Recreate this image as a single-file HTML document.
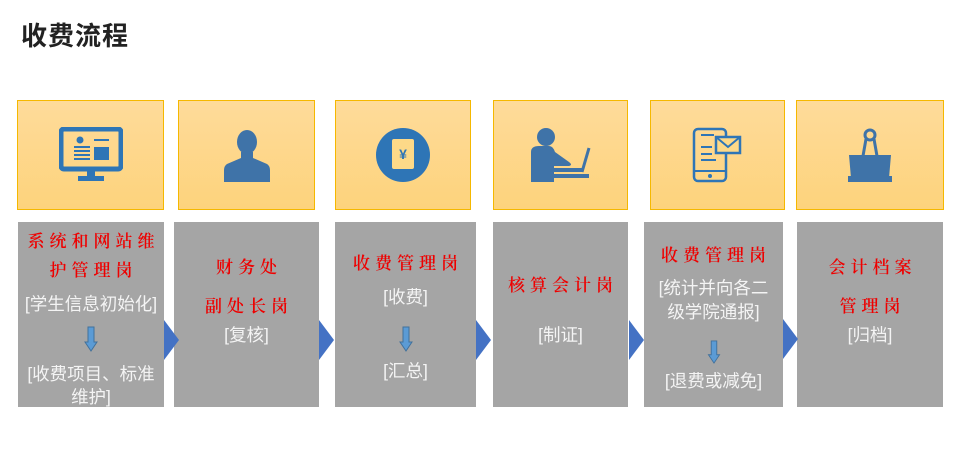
<!DOCTYPE html>
<html><head><meta charset="utf-8"><style>
body{margin:0;width:958px;height:472px;background:#fff;position:relative;overflow:hidden;font-family:"Liberation Sans","Noto Sans CJK SC",sans-serif}
.t{position:absolute;left:21px;top:16px;font-size:26px;font-weight:bold;color:#222;letter-spacing:1px}
.ib{position:absolute;top:100px;height:110px;border:1px solid #f5b800;background:linear-gradient(#fedb9a,#fdd37c);box-sizing:border-box}
.ib svg{position:absolute;left:50%;top:50%;transform:translate(-50%,-50%)}
.g{position:absolute;top:222px;height:185px;background:#a5a5a5}
.l{position:absolute;left:0;right:0;text-align:center;white-space:nowrap;line-height:1}
.r{color:#e00;font-family:"Noto Serif CJK SC","WenQuanYi Zen Hei",serif;font-size:17px;font-weight:600;letter-spacing:5px;text-indent:5px}
.w{color:#f4f4f4;font-size:17.5px}
.da{position:absolute;left:50%;margin-left:-7px;width:14px}
.ar{position:absolute;width:0;height:0;border-top:20px solid transparent;border-bottom:20px solid transparent;border-left:15px solid #4472c4}
</style></head><body>
<div class="t">收费流程</div>

<div class="ib" style="left:17px;width:147px"><svg width="64" height="56" viewBox="0 0 64 56"><rect x="2" y="2" width="60" height="40" rx="3" fill="none" stroke="#2e75b6" stroke-width="5"/><circle cx="21" cy="13" r="3.5" fill="#2e75b6"/><rect x="15" y="19" width="16" height="2" fill="#2e75b6"/><rect x="15" y="23" width="16" height="2" fill="#2e75b6"/><rect x="15" y="27" width="16" height="2" fill="#2e75b6"/><rect x="15" y="31" width="16" height="2" fill="#2e75b6"/><rect x="35" y="12" width="15" height="2" fill="#2e75b6"/><rect x="35" y="20" width="15" height="13" fill="#2e75b6"/><rect x="28" y="42" width="8" height="8" fill="#2e75b6"/><rect x="19" y="49" width="26" height="5" fill="#2e75b6"/></svg></div>
<div class="ib" style="left:178px;width:137px"><svg width="48" height="54" viewBox="0 0 48 54"><ellipse cx="24" cy="14" rx="10" ry="12" fill="#3f73a8"/><path d="M18 24 L18 30 L4 36 Q1 38 1 42 L1 54 L47 54 L47 42 Q47 38 44 36 L30 30 L30 24 Z" fill="#3f73a8"/></svg></div>
<div class="ib" style="left:335px;width:136px"><svg width="56" height="56" viewBox="0 0 56 56"><circle cx="28" cy="28" r="27" fill="#2e75b6"/><rect x="17" y="12" width="22" height="30" rx="2" fill="#fdd988"/><text x="28" y="32" font-size="14" font-weight="bold" text-anchor="middle" fill="#2e75b6" font-family="Liberation Sans">¥</text></svg></div>
<div class="ib" style="left:493px;width:135px"><svg width="64" height="54" viewBox="0 0 64 54"><circle cx="17" cy="9" r="9" fill="#3f73a8"/><path d="M2 54 L2 24 Q2 18 10 18 L20 18 Q24 18 26 24 L40 34 Q44 37 40 38 L25 38 L25 54 Z" fill="#3f73a8"/><path d="M60 20 L53 44" stroke="#3f73a8" stroke-width="3"/><rect x="20" y="40" width="34" height="4" fill="#3f73a8"/><rect x="20" y="46" width="40" height="4" fill="#3f73a8"/></svg></div>
<div class="ib" style="left:650px;width:135px"><svg width="52" height="56" viewBox="0 0 52 56"><rect x="2" y="2" width="32" height="52" rx="4" fill="none" stroke="#2e75b6" stroke-width="2.5"/><line x1="2" y1="44" x2="34" y2="44" stroke="#2e75b6" stroke-width="2"/><circle cx="18" cy="49" r="2" fill="#2e75b6"/><line x1="9" y1="8" x2="22" y2="8" stroke="#2e75b6" stroke-width="2"/><rect x="24" y="10" width="24" height="16" fill="#fdd988" stroke="#2e75b6" stroke-width="2.5"/><path d="M24 10 L36 20 L48 10" fill="none" stroke="#2e75b6" stroke-width="2"/><line x1="9" y1="20" x2="20" y2="20" stroke="#2e75b6" stroke-width="2"/><line x1="9" y1="27" x2="20" y2="27" stroke="#2e75b6" stroke-width="2"/><line x1="9" y1="33" x2="24" y2="33" stroke="#2e75b6" stroke-width="2"/></svg></div>
<div class="ib" style="left:796px;width:148px"><svg width="48" height="54" viewBox="0 0 48 54"><circle cx="24" cy="7" r="5" fill="none" stroke="#3f73a8" stroke-width="3"/><path d="M20 11 L17 28 M28 11 L31 28" stroke="#3f73a8" stroke-width="3"/><path d="M3 27 L45 27 L43 50 L5 50 Z" fill="#3f73a8"/><rect x="2" y="48" width="44" height="6" fill="#3f73a8"/></svg></div>

<div class="g" style="left:18px;width:146px">
<div class="l r" style="top:9px">系统和网站维</div>
<div class="l r" style="top:38px">护管理岗</div>
<div class="l w" style="top:74px">[学生信息初始化]</div>
<svg class="da" style="top:104px" height="26" viewBox="0 0 14 26"><path d="M4 1 H10 V16 H13 L7 25 L1 16 H4 Z" fill="#5b9bd5" stroke="#41719c"/></svg>
<div class="l w" style="top:144px">[收费项目、标准</div>
<div class="l w" style="top:167px">维护]</div>
</div>
<div class="g" style="left:174px;width:145px">
<div class="l r" style="top:35px">财务处</div>
<div class="l r" style="top:74px">副处长岗</div>
<div class="l w" style="top:105px">[复核]</div>
</div>
<div class="g" style="left:335px;width:141px">
<div class="l r" style="top:31px">收费管理岗</div>
<div class="l w" style="top:67px">[收费]</div>
<svg class="da" style="top:104px" height="26" viewBox="0 0 14 26"><path d="M4 1 H10 V16 H13 L7 25 L1 16 H4 Z" fill="#5b9bd5" stroke="#41719c"/></svg>
<div class="l w" style="top:141px">[汇总]</div>
</div>
<div class="g" style="left:493px;width:135px">
<div class="l r" style="top:53px">核算会计岗</div>
<div class="l w" style="top:105px">[制证]</div>
</div>
<div class="g" style="left:644px;width:139px">
<div class="l r" style="top:23px">收费管理岗</div>
<div class="l w" style="top:58px">[统计并向各二</div>
<div class="l w" style="top:82px">级学院通报]</div>
<svg class="da" style="top:118px" height="24" viewBox="0 0 14 26"><path d="M4 1 H10 V16 H13 L7 25 L1 16 H4 Z" fill="#5b9bd5" stroke="#41719c"/></svg>
<div class="l w" style="top:151px">[退费或减免]</div>
</div>
<div class="g" style="left:797px;width:146px">
<div class="l r" style="top:35px">会计档案</div>
<div class="l r" style="top:74px">管理岗</div>
<div class="l w" style="top:105px">[归档]</div>
</div>

<div class="ar" style="left:164px;top:320px"></div>
<div class="ar" style="left:319px;top:320px"></div>
<div class="ar" style="left:476px;top:320px"></div>
<div class="ar" style="left:629px;top:320px"></div>
<div class="ar" style="left:783px;top:319px"></div>
</body></html>
